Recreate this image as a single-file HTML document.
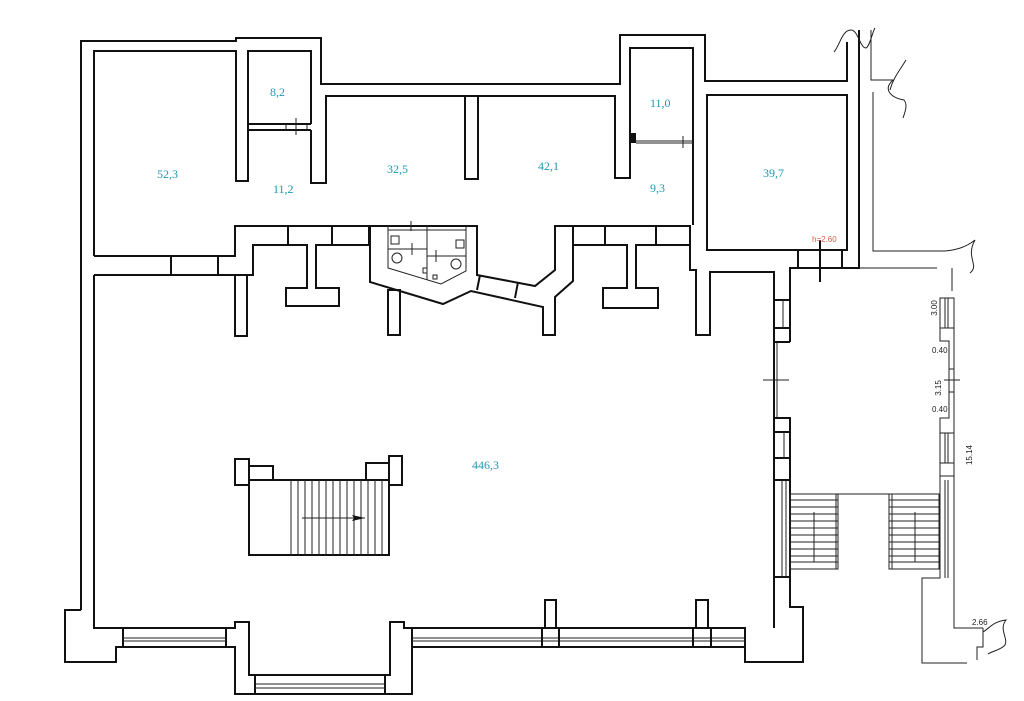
<!DOCTYPE html>
<html><head><meta charset="utf-8"><style>
html,body{margin:0;padding:0;background:#fff}
svg{display:block}
.w{fill:none;stroke:#111;stroke-width:2;stroke-linejoin:miter}
.t{fill:none;stroke:#222;stroke-width:1}
.l{font-family:"Liberation Serif",serif;font-size:12px;fill:#1d9ab2}
.d{font-family:"Liberation Sans",sans-serif;font-size:8px;fill:#222}
</style></head><body>
<svg width="1024" height="701" viewBox="0 0 1024 701" xmlns="http://www.w3.org/2000/svg">
<!-- outer wall top-left -->
<polyline class="w" points="81,610 81,41 236,41 236,38 321,38 321,84 620,84 620,35 705,35 705,81 847,81 847,42"/>
<polyline class="w" points="94,256 94,51 236,51 236,181 248,181 248,51 311,51 311,124"/>
<polyline class="w" points="311,130 311,183 326,183 326,96 615,96 615,178 630,178 630,48 693,48 693,225"/>
<rect class="w" x="465" y="96" width="13" height="83"/>
<!-- 8,2 door -->
<line class="w" x1="248" y1="124" x2="311" y2="124"/><line class="w" x1="248" y1="130" x2="311" y2="130"/>
<line class="t" x1="286" y1="124" x2="286" y2="130"/><line class="t" x1="296" y1="118" x2="296" y2="135"/><line class="t" x1="307" y1="124" x2="307" y2="130"/>
<!-- 11,0 door -->
<rect x="630" y="133" width="6" height="10" fill="#111"/>
<line class="t" x1="636" y1="141" x2="693" y2="141"/><line class="t" x1="636" y1="143" x2="693" y2="143"/><line class="t" x1="683" y1="136" x2="683" y2="148"/>
<!-- 39,7 -->
<rect class="w" x="707" y="95" width="140" height="155"/>
<polyline class="w" points="859,30 859,268 790,268 790,342"/>
<line class="w" x1="798" y1="250" x2="798" y2="268"/><line class="w" x1="842" y1="250" x2="842" y2="268"/>
<line class="w" x1="820" y1="240" x2="820" y2="282"/>
<text x="812" y="242" style="font-family:'Liberation Sans',sans-serif;font-size:8px;fill:#d9604a">h=2.60</text>
<!-- squiggles -->
<path class="t" d="M834,52 C840,45 842,30 851,30 C858,30 860,48 866,48 C870,46 872,33 875,28" stroke-width="1.2"/>
<path class="t" d="M871,30 L871,80 L893,80 C882,90 892,98 904,100 C908,105 905,112 903,118 M906,60 C900,70 893,78 890,90" stroke-width="1.2"/>
<polyline class="t" points="873,92 873,251 945,251"/>
<path class="t" d="M945,251 C955,250 965,248 975,240 C965,258 980,265 970,273" stroke-width="1.2"/>
<line class="t" x1="859" y1="268" x2="937" y2="268"/>
<polyline class="t" points="952,268 952,291"/>
<!-- middle wall row -->
<polyline class="w" points="94,256 235,256 235,226 370,226"/>
<polyline class="w" points="94,275 253,275 253,245 307,245 307,288 286,288 286,306 339,306 339,288 316,288 316,245 369,245 369,226"/>
<line class="w" x1="171" y1="256" x2="171" y2="275"/><line class="w" x1="218" y1="256" x2="218" y2="275"/>
<line class="w" x1="288" y1="226" x2="288" y2="245"/><line class="w" x1="332" y1="226" x2="332" y2="245"/>
<rect class="w" x="235" y="275" width="12" height="61"/>
<!-- restroom block -->
<polyline class="w" points="370,226 370,282 443,304 471,291 543,307 543,335 555,335 555,297 573,281 573,226 555,226 555,270 535,286 477,275 477,226 370,226"/>
<polyline class="t" points="388,226 388,268 441,284 466,271 466,226"/>
<line class="t" x1="427" y1="226" x2="427" y2="280" stroke-width="1.5"/>
<line class="t" x1="388" y1="249" x2="427" y2="249"/><line class="t" x1="427" y1="256" x2="466" y2="256"/>
<line class="t" x1="412" y1="243" x2="412" y2="255"/><line class="t" x1="436" y1="250" x2="436" y2="262"/>
<line class="t" x1="411" y1="221" x2="411" y2="231"/><line class="t" x1="388" y1="230" x2="466" y2="230"/>
<rect class="t" x="391" y="236" width="8" height="8"/><rect class="t" x="456" y="240" width="8" height="8"/>
<ellipse class="t" cx="397" cy="258" rx="5" ry="5"/><ellipse class="t" cx="456" cy="264" rx="5" ry="5"/>
<rect class="t" x="423" y="268" width="4" height="5"/><rect class="t" x="433" y="275" width="4" height="4"/>
<line class="w" x1="480" y1="275" x2="477" y2="290"/><line class="w" x1="518" y1="282" x2="515" y2="298"/>
<rect class="w" x="388" y="290" width="12" height="45"/>
<!-- right cells -->
<polyline class="w" points="573,226 690,226 690,270 696,270 696,335 710,335 710,272 774,272 774,628"/>
<polyline class="w" points="573,245 627,245 627,288 603,288 603,308 658,308 658,288 636,288 636,245 690,245"/>
<line class="w" x1="605" y1="226" x2="605" y2="245"/><line class="w" x1="656" y1="226" x2="656" y2="245"/>
<!-- right hall wall -->
<line class="t" x1="777" y1="342" x2="777" y2="418"/><line class="t" x1="763" y1="380" x2="789" y2="380"/>
<polyline class="w" points="774,342 790,342"/>
<rect class="w" x="774" y="418" width="16" height="159"/>
<line class="w" x1="774" y1="432" x2="790" y2="432"/><line class="w" x1="774" y1="458" x2="790" y2="458"/><line class="w" x1="774" y1="480" x2="790" y2="480"/>
<line class="t" x1="784" y1="432" x2="784" y2="458"/><line class="t" x1="782" y1="480" x2="782" y2="577"/><line class="t" x1="786" y1="480" x2="786" y2="577"/>
<line class="w" x1="774" y1="300" x2="790" y2="300"/><line class="w" x1="774" y1="328" x2="790" y2="328"/><line class="t" x1="783" y1="300" x2="783" y2="328"/>
<polyline class="w" points="790,577 790,607 803,607 803,662 745,662 745,628"/>
<!-- bottom wall -->
<polyline class="w" points="81,610 65,610 65,662 116,662 116,647 123,647"/>
<polyline class="w" points="94,275 94,628 123,628"/>
<rect class="w" x="123" y="628" width="103" height="19"/><line class="t" x1="123" y1="638" x2="226" y2="638"/><line class="t" x1="123" y1="641" x2="226" y2="641"/>
<polyline class="w" points="226,628 235,628 235,622 249,622 249,675 255,675"/>
<polyline class="w" points="226,647 235,647 235,694 412,694 412,647"/>
<rect class="w" x="255" y="675" width="130" height="19"/><line class="t" x1="255" y1="684" x2="385" y2="684"/><line class="t" x1="255" y1="688" x2="385" y2="688"/>
<polyline class="w" points="385,675 390,675 390,622 404,622 404,628 412,628"/>
<rect class="w" x="412" y="628" width="333" height="19"/><line class="t" x1="412" y1="638" x2="745" y2="638"/><line class="t" x1="412" y1="641" x2="745" y2="641"/>
<rect class="w" x="545" y="600" width="11" height="28"/><rect class="w" x="696" y="600" width="12" height="28"/>
<line class="w" x1="542" y1="628" x2="542" y2="647"/><line class="w" x1="559" y1="628" x2="559" y2="647"/>
<line class="w" x1="693" y1="628" x2="693" y2="647"/><line class="w" x1="711" y1="628" x2="711" y2="647"/>
<!-- staircase -->
<polyline class="w" points="249,480 249,555 389,555 389,480 249,480"/>
<rect class="w" x="235" y="459" width="14" height="26"/><rect class="w" x="249" y="466" width="24" height="14"/>
<rect class="w" x="366" y="463" width="23" height="17"/><rect class="w" x="389" y="456" width="13" height="29"/>
<g class="t">
<line x1="291" y1="480" x2="291" y2="555"/><line x1="298" y1="480" x2="298" y2="555"/><line x1="305" y1="480" x2="305" y2="555"/><line x1="312" y1="480" x2="312" y2="555"/><line x1="319" y1="480" x2="319" y2="555"/><line x1="326" y1="480" x2="326" y2="555"/><line x1="333" y1="480" x2="333" y2="555"/><line x1="340" y1="480" x2="340" y2="555"/><line x1="347" y1="480" x2="347" y2="555"/><line x1="354" y1="480" x2="354" y2="555"/><line x1="361" y1="480" x2="361" y2="555"/><line x1="368" y1="480" x2="368" y2="555"/><line x1="375" y1="480" x2="375" y2="555"/><line x1="382" y1="480" x2="382" y2="555"/>
<line x1="302" y1="518" x2="365" y2="518"/>
</g>
<polygon points="365,518 352,515 354,518 352,521" fill="#111"/>
<!-- exterior stairs -->
<g class="t">
<rect x="790" y="494" width="48" height="75"/><line x1="838" y1="494" x2="889" y2="494"/>
<rect x="889" y="494" width="50" height="75"/>
<line x1="790" y1="500" x2="838" y2="500"/><line x1="790" y1="507" x2="838" y2="507"/><line x1="790" y1="514" x2="838" y2="514"/><line x1="790" y1="521" x2="838" y2="521"/><line x1="790" y1="528" x2="838" y2="528"/><line x1="790" y1="535" x2="838" y2="535"/><line x1="790" y1="542" x2="838" y2="542"/><line x1="790" y1="549" x2="838" y2="549"/><line x1="790" y1="556" x2="838" y2="556"/><line x1="790" y1="562" x2="838" y2="562"/>
<line x1="889" y1="500" x2="939" y2="500"/><line x1="889" y1="507" x2="939" y2="507"/><line x1="889" y1="514" x2="939" y2="514"/><line x1="889" y1="521" x2="939" y2="521"/><line x1="889" y1="528" x2="939" y2="528"/><line x1="889" y1="535" x2="939" y2="535"/><line x1="889" y1="542" x2="939" y2="542"/><line x1="889" y1="549" x2="939" y2="549"/><line x1="889" y1="556" x2="939" y2="556"/><line x1="889" y1="562" x2="939" y2="562"/>
<line x1="814" y1="512" x2="814" y2="562"/><line x1="915" y1="512" x2="915" y2="562"/>
<line x1="836" y1="494" x2="836" y2="569"/><line x1="892" y1="494" x2="892" y2="569"/>
<!-- right wall -->
<polyline points="940,298 940,341 949,341 949,418 940,418 940,578 922,578 922,663 967,663"/>
<polyline points="954,298 954,628 983,628"/>
<rect x="940" y="298" width="14" height="30"/><line x1="945" y1="298" x2="945" y2="328"/><line x1="948" y1="298" x2="948" y2="328"/>
<line x1="949" y1="369" x2="954" y2="369"/><line x1="949" y1="392" x2="954" y2="392"/><line x1="944" y1="380" x2="960" y2="380"/>
<rect x="940" y="433" width="14" height="30"/><line x1="945" y1="433" x2="945" y2="463"/><line x1="948" y1="433" x2="948" y2="463"/>
<line x1="940" y1="476" x2="954" y2="476"/><line x1="945" y1="480" x2="945" y2="578"/><line x1="948" y1="480" x2="948" y2="578"/>
<polyline points="983,628 983,647 977,647 977,660"/>
<line x1="932" y1="663" x2="967" y2="663" stroke-dasharray="5,3"/>
<path d="M983,632 C990,628 992,622 1006,620 C998,630 1010,640 1004,646 C1000,650 990,652 988,654"/>
</g>
<text class="d" x="972" y="625">2.66</text>
<text class="d" transform="translate(937,308) rotate(-90)" text-anchor="middle">3.00</text>
<text class="d" x="932" y="353">0.40</text>
<text class="d" transform="translate(941,388) rotate(-90)" text-anchor="middle">3.15</text>
<text class="d" x="932" y="412">0.40</text>
<text class="d" transform="translate(972,455) rotate(-90)" text-anchor="middle">15.14</text>
<!-- labels -->
<text class="l" x="270" y="96">8,2</text>
<text class="l" x="157" y="178">52,3</text>
<text class="l" x="273" y="193">11,2</text>
<text class="l" x="387" y="173">32,5</text>
<text class="l" x="538" y="170">42,1</text>
<text class="l" x="650" y="107">11,0</text>
<text class="l" x="650" y="192">9,3</text>
<text class="l" x="763" y="177">39,7</text>
<text class="l" x="472" y="469">446,3</text>
</svg>
</body></html>
